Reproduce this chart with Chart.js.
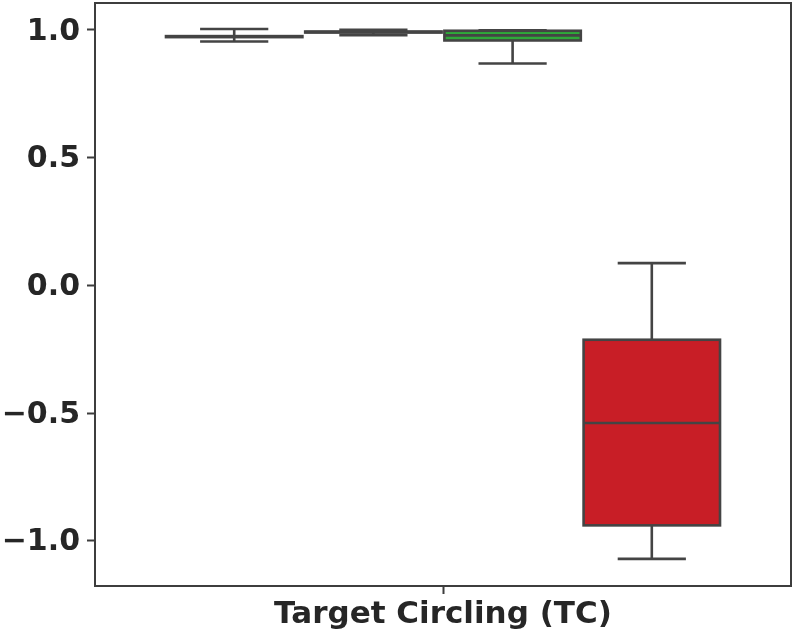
<!DOCTYPE html>
<html>
<head>
<meta charset="utf-8">
<script src="https://cdn.jsdelivr.net/npm/chart.js@4"></script>
<style>
html,body{margin:0;padding:0;background:#fff;}
#wrap{width:797px;height:634px;}
</style>
</head>
<body>
<div id="wrap"><canvas id="c" width="797" height="634"></canvas></div>
<script>
// ---- data ----
const categories = ['Target Circling (TC)'];
const seriesNames = ['Method 1', 'Method 2', 'Method 3', 'Method 4'];
const seriesColors = ['#3b75af', '#ef8636', '#2fa83a', '#c81e26'];
const whiskerLow  = [0.955, 0.980, 0.869, -1.071];
const q1          = [0.972, 0.990, 0.959, -0.940];
const median      = [0.974, 0.992, 0.979, -0.539];
const q3          = [0.976, 0.994, 0.997, -0.213];
const whiskerHigh = [1.004, 1.001, 0.999, 0.087];
const yTicks = [-1.0, -0.5, 0.0, 0.5, 1.0];

const EDGE = '#444444';
const AXIS = '#3d3d3d';
const TEXT = '#262626';
const FONT = "'DejaVu Sans', sans-serif";
const LW = 2.6;

const datasets = seriesNames.map((name, i) => ({
  label: name,
  data: [[q1[i], q3[i]]],
  backgroundColor: seriesColors[i],
  borderWidth: 0,
  barPercentage: 0.98,
  categoryPercentage: 0.8
}));

const boxPlugin = {
  id: 'boxparts',
  afterDatasetsDraw(chart) {
    const ctx = chart.ctx;
    const ys = chart.scales.y;
    ctx.save();
    ctx.strokeStyle = EDGE;
    ctx.lineWidth = LW;
    ctx.lineCap = 'butt';
    chart.data.datasets.forEach((ds, i) => {
      const meta = chart.getDatasetMeta(i);
      meta.data.forEach((bar) => {
        const x = bar.x;
        const w = bar.width;
        const yLo = ys.getPixelForValue(whiskerLow[i]);
        const yHi = ys.getPixelForValue(whiskerHigh[i]);
        const yQ1 = ys.getPixelForValue(q1[i]);
        const yQ3 = ys.getPixelForValue(q3[i]);
        const yMed = ys.getPixelForValue(median[i]);
        ctx.beginPath();
        ctx.moveTo(x, yQ1); ctx.lineTo(x, yLo);
        ctx.moveTo(x, yQ3); ctx.lineTo(x, yHi);
        ctx.moveTo(x - w / 4, yLo); ctx.lineTo(x + w / 4, yLo);
        ctx.moveTo(x - w / 4, yHi); ctx.lineTo(x + w / 4, yHi);
        ctx.stroke();
        ctx.strokeRect(x - w / 2, yQ3, w, yQ1 - yQ3);
        ctx.beginPath();
        ctx.moveTo(x - w / 2, yMed); ctx.lineTo(x + w / 2, yMed);
        ctx.stroke();
      });
    });
    const a = chart.chartArea;
    ctx.strokeStyle = AXIS;
    ctx.lineWidth = 2;
    ctx.strokeRect(a.left, a.top, a.right - a.left, a.bottom - a.top);
    ctx.restore();
  }
};

new Chart(document.getElementById('c'), {
  type: 'bar',
  data: { labels: categories, datasets },
  plugins: [boxPlugin],
  options: {
    responsive: false,
    animation: false,
    layout: { padding: { left: 0, right: 6, top: 3, bottom: 0 } },
    plugins: { legend: { display: false }, tooltip: { enabled: false } },
    scales: {
      x: {
        grid: { display: true, drawOnChartArea: false, drawTicks: true, tickLength: 8, tickColor: AXIS, tickWidth: 2, offset: false },
        border: { display: true, color: AXIS, width: 2 },
        ticks: { color: TEXT, font: { family: FONT, size: 31, weight: 'bold' }, padding: 2, maxRotation: 0 },
        afterFit(s) { s.height = 48; s.paddingLeft = 0; s.paddingRight = 0; }
      },
      y: {
        min: -1.1774,
        max: 1.1057,
        grid: { display: true, drawOnChartArea: false, drawTicks: true, tickLength: 8, tickColor: AXIS, tickWidth: 2 },
        border: { display: true, color: AXIS, width: 2 },
        ticks: {
          color: TEXT,
          font: { family: FONT, size: 30, weight: 'bold' },
          padding: 7,
          labelOffset: 2,
          callback: (v) => (v < 0 ? '\u2212' : '') + Math.abs(v).toFixed(1)
        },
        afterBuildTicks(s) { s.ticks = yTicks.map(v => ({ value: v })); },
        afterFit(s) { s.width = 95; s.paddingTop = 0; s.paddingBottom = 0; }
      }
    }
  }
});
</script>
</body>
</html>
